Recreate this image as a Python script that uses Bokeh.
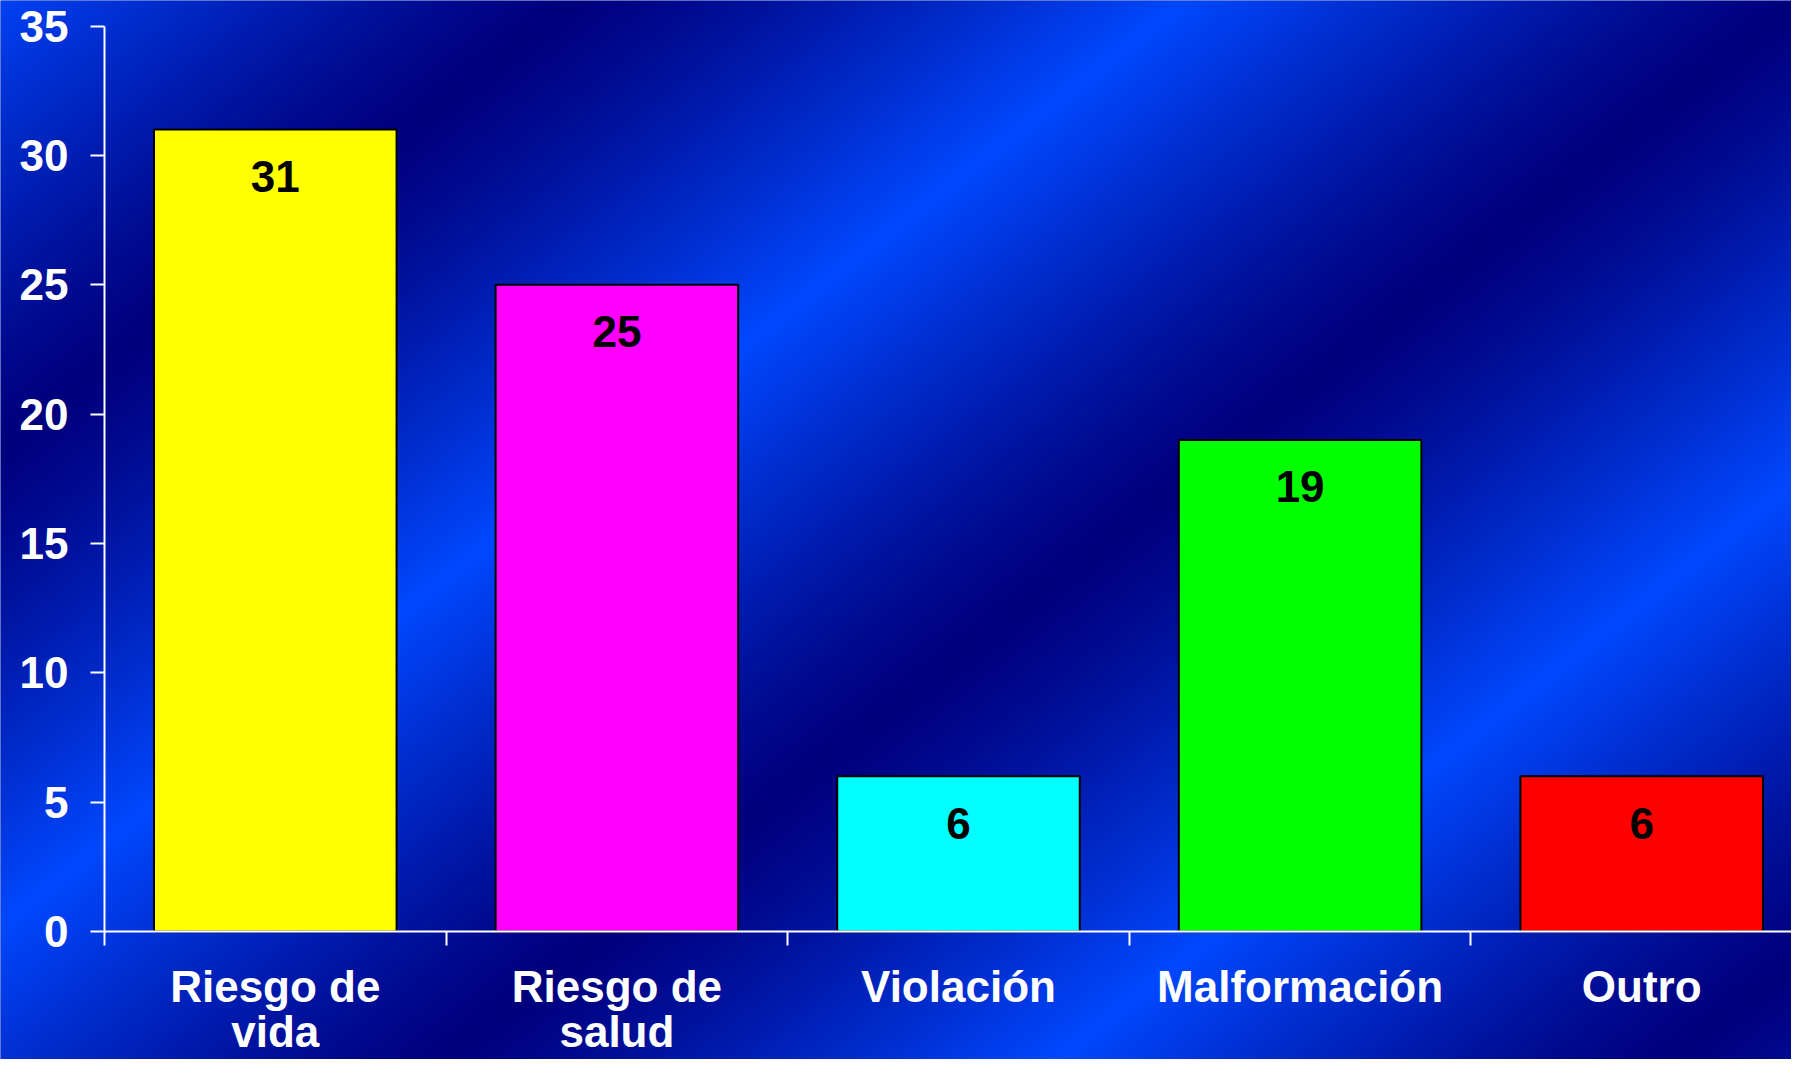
import numpy as np
from bokeh.plotting import figure
from bokeh.models import Range1d, LinearAxis, FixedTicker, ColumnDataSource
from bokeh.core.properties import value
from bokeh.embed import file_html
from bokeh.resources import INLINE

# ---- data ----
categories = ["Riesgo de\nvida", "Riesgo de\nsalud", "Violación", "Malformación", "Outro"]
counts = [31, 25, 6, 19, 6]
bar_colors = ["#FFFF00", "#FF00FF", "#00FFFF", "#00FF00", "#FF0000"]
y_ticks = [0, 5, 10, 15, 20, 25, 30, 35]

# ---- geometry ----
W, H = 1791, 1059
X0_PX, XSTEP = 104, 341.6
Y0_PX, YSTEP = 931, 25.87
x_start = -X0_PX / XSTEP
x_end = (W - X0_PX) / XSTEP
y_end = Y0_PX / YSTEP
y_start = -(H - Y0_PX) / YSTEP

FONT = "Liberation Sans"

p = figure(width=W, height=H,
           x_range=Range1d(x_start, x_end), y_range=Range1d(y_start, y_end),
           x_axis_type=None, y_axis_type=None,
           output_backend="svg", toolbar_location=None,
           min_border=0, min_border_left=0, min_border_right=0,
           min_border_top=0, min_border_bottom=0)
p.outline_line_color = None
p.background_fill_color = "#0022b0"
p.border_fill_color = "#0022b0"

# ---- background gradient (style) ----
step = 2
cols = W // step + 1
rows = H // step + 1
dw = cols * step / XSTEP
dh = rows * step / YSTEP
cx = (np.arange(cols) + 0.5) * step
cy = (rows - 1 - np.arange(rows) + 0.5) * step
X, Y = np.meshgrid(cx, cy)
s = 0.78 * X + Y
phase = np.mod((s + 33.0) / 957.5, 1.0)
b = np.abs(1.0 - 2.0 * phase) ** 1.2
dark = (0, 0, 125)
bright = (0, 72, 255)
img = np.empty((rows, cols), dtype=np.uint32)
view = img.view(dtype=np.uint8).reshape((rows, cols, 4))
for k in range(3):
    view[..., k] = np.clip(dark[k] + b * (bright[k] - dark[k]), 0, 255).astype(np.uint8)
view[..., 3] = 255
p.image_rgba(image=[img], x=x_start, y=y_end - dh, dw=dw, dh=dh)

# ---- bars ----
xs = [i + 0.5 for i in range(len(categories))]
src = ColumnDataSource(dict(x=xs, top=counts, color=bar_colors,
                            label=[str(c) for c in counts]))
p.vbar(x="x", top="top", bottom=0, width=0.71, fill_color="color",
       line_color="black", line_width=2, source=src)
p.text(x="x", y="top", text="label", source=src,
       text_font=value(FONT), text_font_style="bold", text_font_size="44px",
       text_color="black", text_align="center", text_baseline="middle",
       y_offset=47)

# ---- axes ----
yaxis = LinearAxis(fixed_location=0, bounds=(0, 35), ticker=FixedTicker(ticks=y_ticks))
yaxis.axis_line_color = "white"
yaxis.axis_line_width = 2
yaxis.major_tick_line_color = "white"
yaxis.major_tick_line_width = 2
yaxis.major_tick_out = 14
yaxis.major_tick_in = 0
yaxis.minor_tick_line_color = None
yaxis.major_label_text_color = "white"
yaxis.major_label_text_font = FONT
yaxis.major_label_text_font_style = "bold"
yaxis.major_label_text_font_size = "44px"
yaxis.major_label_standoff = 22
p.add_layout(yaxis, "left")

xaxis = LinearAxis(fixed_location=0, bounds=(0, 5),
                   ticker=FixedTicker(ticks=xs, minor_ticks=list(range(len(categories) + 1))))
xaxis.major_label_overrides = {x: c for x, c in zip(xs, categories)}
xaxis.axis_line_color = "white"
xaxis.axis_line_width = 2
xaxis.major_tick_line_color = None
xaxis.major_tick_out = 0
xaxis.major_tick_in = 0
xaxis.minor_tick_line_color = "white"
xaxis.minor_tick_line_width = 2
xaxis.minor_tick_out = 14
xaxis.minor_tick_in = 0
xaxis.major_label_text_color = "white"
xaxis.major_label_text_font = FONT
xaxis.major_label_text_font_style = "bold"
xaxis.major_label_text_font_size = "44px"
xaxis.major_label_text_line_height = 0.92
xaxis.major_label_standoff = 16
p.add_layout(xaxis, "below")

open("out.html", "w").write(file_html(p, INLINE))
